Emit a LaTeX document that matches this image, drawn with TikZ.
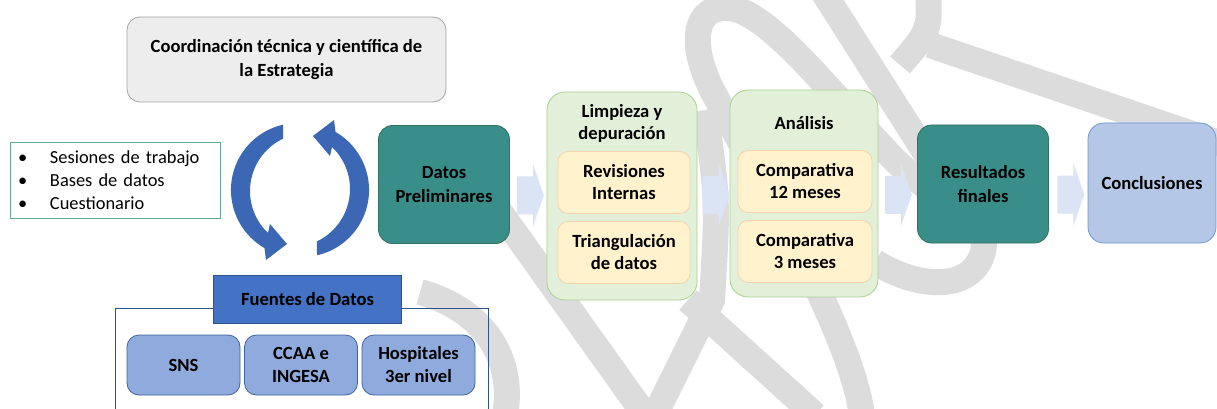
\documentclass[tikz,border=0pt]{standalone}
\usepackage{fontspec}
\setmainfont{Carlito}
\usetikzlibrary{calc}
\definecolor{wmgray}{RGB}{220,220,220}
\definecolor{cgray}{RGB}{237,237,237}
\definecolor{cgrayb}{RGB}{166,166,166}
\definecolor{listb}{RGB}{100,170,150}
\definecolor{tealf}{RGB}{58,142,138}
\definecolor{tealb}{RGB}{52,112,92}
\definecolor{fhead}{RGB}{68,114,196}
\definecolor{fheadb}{RGB}{47,82,143}
\definecolor{srcf}{RGB}{143,170,220}
\definecolor{srcb}{RGB}{65,100,160}
\definecolor{greenf}{RGB}{226,240,217}
\definecolor{greenb}{RGB}{169,209,142}
\definecolor{yelf}{RGB}{255,242,204}
\definecolor{yelb}{RGB}{244,210,170}
\definecolor{arrf}{RGB}{218,228,244}
\definecolor{conf}{RGB}{180,199,231}
\definecolor{conb}{RGB}{112,150,210}
\definecolor{circf}{RGB}{59,103,181}
\newcommand{\blockarrow}[1]{\fill[arrf] ($(#1)+(-13,-19)$) -- ($(#1)+(3,-19)$) -- ($(#1)+(3,-32)$) -- ($(#1)+(14,0)$) -- ($(#1)+(3,32)$) -- ($(#1)+(3,19)$) -- ($(#1)+(-13,19)$) -- cycle;}
\newcommand{\circarrowpath}{(283,124.7) arc[start angle=257.1, end angle=120, radius=67] -- (266,260) -- (287,244) -- (270,224) -- (268,233) arc[start angle=133.6, end angle=244.5, radius=58] -- cycle}
\begin{document}
\begin{tikzpicture}[x=1pt,y=-1pt,
  wm/.style={draw=wmgray, line width=26pt},
  bfont/.style={font=\bfseries\fontsize{18.6}{24}\selectfont},
  coordbox/.style={bfont, draw=cgrayb, fill=cgray, line width=0.8pt, rounded corners=13pt, align=center, minimum width=319pt, minimum height=85pt, inner sep=0pt},
  listbox/.style={draw=listb, fill=white, line width=0.8pt, font=\fontsize{18.4}{23}\selectfont, align=left, text width=194pt, inner xsep=8pt, inner ysep=0pt, minimum height=76pt},
  tealbox/.style={bfont, draw=tealb, fill=tealf, line width=0.8pt, rounded corners=14pt, align=center, minimum width=131pt, minimum height=118pt, inner sep=0pt},
  fheadbox/.style={bfont, draw=fheadb, fill=fhead, line width=0.6pt, minimum width=188pt, minimum height=48pt, inner sep=0pt},
  srcbox/.style={font=\bfseries\fontsize{18.6}{23}\selectfont, draw=srcb, fill=srcf, line width=0.8pt, rounded corners=12pt, align=center, minimum width=113pt, minimum height=60pt, inner sep=0pt},
  greenbox/.style={draw=greenb, fill=greenf, line width=0.8pt, rounded corners=18pt, minimum width=150pt, minimum height=208pt, inner sep=0pt},
  titlet/.style={font=\bfseries\fontsize{18.6}{22}\selectfont, align=center, inner sep=0pt},
  yelbox/.style={font=\bfseries\fontsize{18.6}{22}\selectfont, draw=yelb, fill=yelf, line width=0.8pt, rounded corners=10pt, align=center, minimum width=132pt, minimum height=62pt, inner sep=0pt},
  conbox/.style={bfont, draw=conb, fill=conf, line width=0.8pt, rounded corners=16pt, align=center, minimum width=128pt, minimum height=120pt, inner sep=0pt}
]
\useasboundingbox (0,0) rectangle (1217,409);
\clip (0,0) rectangle (1217,409);
\fill[white] (0,0) rectangle (1217,409);
% watermark
\draw[wm] (862,415) .. controls (850,330) and (760,180) .. (712,90) .. controls (688,42) and (695,6) .. (728,8) .. controls (765,10) and (820,80) .. (885,150) .. controls (940,210) and (995,215) .. (982,255) .. controls (970,290) and (920,290) .. (875,262);
\draw[wm] (822,-10) -- (935,168);
\draw[wm] (928,-10) .. controls (930,30) .. (900,65);
\draw[wm] (930,45) -- (1225,145);
\draw[wm] (420,292) .. controls (485,310) and (515,360) .. (505,415);
\draw[wm] (470,170) -- (645,415);
\draw[wm] (705,110) .. controls (718,200) .. (712,300) -- (655,415);
\draw[wm] (688,300) -- (815,415);

% top box
\node[coordbox] (coord) at (286.5,59.5) {Coordinación técnica y científica de\\la Estrategia};
% list box
\node[listbox] (list) at (115,180) {\makebox[32pt][l]{\textbullet}Sesiones de trabajo\\\makebox[32pt][l]{\textbullet}Bases de datos\\\makebox[32pt][l]{\textbullet}Cuestionario};
% circular arrows
\fill[circf] \circarrowpath;
\begin{scope}[rotate around={180:(300,190)}]
\fill[circf] \circarrowpath;
\end{scope}
% fuentes
\node[draw=fheadb, line width=0.8pt, minimum width=373pt, minimum height=115pt, anchor=north west, inner sep=0pt] (fbox) at (115,308) {};
\node[fheadbox] (fhead) at (307.5,299) {Fuentes de Datos};
\node[srcbox] (sns) at (183.5,365) {SNS};
\node[srcbox] (ccaa) at (301,365) {CCAA e\\INGESA};
\node[srcbox] (hosp) at (418.5,365) {Hospitales\\3er nivel};
% main flow
\node[tealbox] (datos) at (444,184.5) {Datos\\Preliminares};
\node[greenbox] (limp) at (622,196) {};
\node[titlet] (limpt) at (622,123) {Limpieza y\\depuración};
\node[yelbox] (rev) at (624,182.5) {Revisiones\\Internas};
\node[yelbox] (tri) at (624,252.5) {Triangulación\\de datos};
\node[greenbox, minimum width=148pt, minimum height=207pt] (anal) at (804,193.5) {};
\node[titlet] (analt) at (804,123) {Análisis};
\node[yelbox, minimum width=134pt] (c12) at (805,181.5) {Comparativa\\12 meses};
\node[yelbox, minimum width=134pt] (c3) at (805,251.5) {Comparativa\\3 meses};
\node[tealbox] (res) at (983,184) {Resultados\\finales};
\node[conbox] (conc) at (1152,183) {Conclusiones};
% block arrows
\coordinate (m1) at ($(datos.east)!0.5!(limp.west)+(1.5,5)$);
\coordinate (m2) at ($(limp.east)!0.5!(anal.west)+(2,0)$);
\coordinate (m3) at ($(anal.east)!0.5!(res.west)+(0,6)$);
\coordinate (m4) at ($(res.east)!0.5!(conc.west)+(2,11)$);
\blockarrow{m1}
\blockarrow{m2}
\blockarrow{m3}
\blockarrow{m4}
\end{tikzpicture}
\end{document}
